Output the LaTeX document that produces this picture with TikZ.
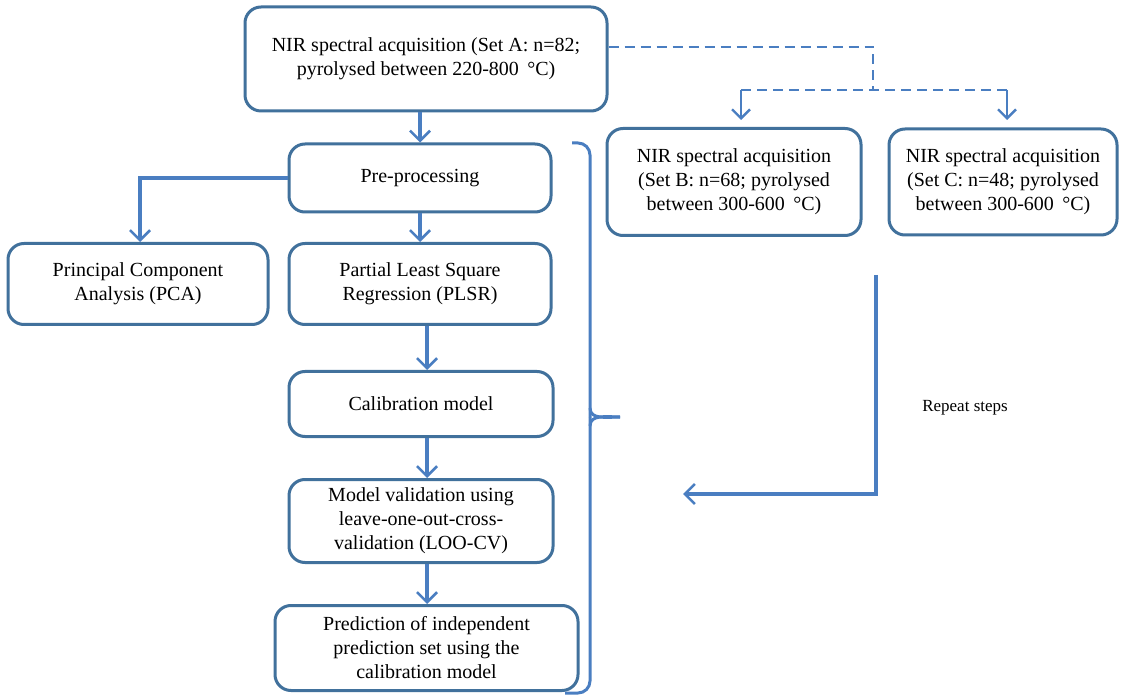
\documentclass[tikz,border=0pt]{standalone}
\usepackage{fontspec}
\setmainfont{Liberation Serif}
\usetikzlibrary{arrows.meta}
\definecolor{boxblue}{HTML}{41719C}
\definecolor{lineblue}{HTML}{4A7EC1}
\begin{document}
\begin{tikzpicture}[x=0.5pt,y=-0.5pt,
  box/.style={draw=boxblue, line width=1.5pt, rounded corners=8pt, align=center,
    font=\fontsize{10}{12}\selectfont, inner sep=2pt, fill=white},
  conn/.style={draw=lineblue, line width=1.6pt, -{Straight Barb[length=5pt,width=10pt,line width=1.3pt]}},
  dashconn/.style={draw=lineblue, line width=1.2pt, dashed, dash pattern=on 5pt off 3pt},
  dasharrow/.style={draw=lineblue, line width=1.2pt, -{Straight Barb[length=4.5pt,width=9pt]}}
]
\useasboundingbox (0,0) rectangle (1127,699);
\fill[white] (0,0) rectangle (1127,699);

\node[box, minimum width=181pt, minimum height=52pt] (A) at (426,59)
  {NIR spectral acquisition (Set A: n=82;\\pyrolysed between 220-800 \,°C)};
\node[box, minimum width=131pt, minimum height=34pt] (pre) at (420,178) {Pre-processing};
\node[box, minimum width=130pt, minimum height=40.5pt] (pca) at (138,284)
  {Principal Component\\Analysis (PCA)};
\node[box, minimum width=131pt, minimum height=40.5pt] (plsr) at (420,284)
  {Partial Least Square\\Regression (PLSR)};
\node[box, minimum width=132pt, minimum height=32.5pt] (cal) at (421,404) {Calibration model};
\node[box, minimum width=132pt, minimum height=41.5pt] (val) at (421,521)
  {Model validation using\\leave-one-out-cross-\\validation (LOO-CV)};
\node[box, minimum width=151.5pt, minimum height=42.5pt] (pred) at (426.5,648)
  {Prediction of independent\\prediction set using the\\calibration model};
\node[box, minimum width=127pt, minimum height=53.5pt] (B) at (734,182)
  {NIR spectral acquisition\\(Set B: n=68; pyrolysed\\between 300-600 \,°C)};
\node[box, minimum width=114pt, minimum height=53pt] (C) at (1003,182)
  {NIR spectral acquisition\\(Set C: n=48; pyrolysed\\between 300-600 \,°C)};

% solid connectors
\draw[conn] (A.south -| 420,0) -- (pre.north -| 420,0);
\draw[conn] (pre.west) -- (140,178) -- (pca.north -| 140,0);
\draw[conn] (pre.south -| 420,0) -- (plsr.north -| 420,0);
\draw[conn] (plsr.south -| 427,0) -- (cal.north -| 427,0);
\draw[conn] (cal.south -| 427,0) -- (val.north -| 427,0);
\draw[conn] (val.south -| 427,0) -- (pred.north -| 427,0);

% dashed branch
\coordinate (d1) at (873,47);
\coordinate (d2) at (873,90);
\draw[dashconn] (A.east |- 0,47) -- (d1) -- (d2);
\draw[dashconn] (741,90) -- (1007,90);
\draw[dasharrow] (741,90) -- (741,120);
\draw[dasharrow] (1007,90) -- (1007,120);

% brace
\draw[lineblue, line width=1.5pt, rounded corners=6pt]
  (572,143) -- (590,143) -- (590,417);
\draw[lineblue, line width=1.5pt, rounded corners=6pt]
  (565,693) -- (590,693) -- (590,417);
\draw[lineblue, line width=1.5pt] (590,408) to[out=-90,in=180] (620,417);
\draw[lineblue, line width=1.5pt] (590,426) to[out=90,in=180] (620,417);

% repeat steps
\coordinate (r1) at (876,275);
\coordinate (r2) at (876,494);
\coordinate (r3) at (683,494);
\draw[conn] (r1) -- (r2) -- (r3);
\node[font=\fontsize{8.5}{10}\selectfont] (rep) at (965,408) {Repeat steps};
\end{tikzpicture}
\end{document}
